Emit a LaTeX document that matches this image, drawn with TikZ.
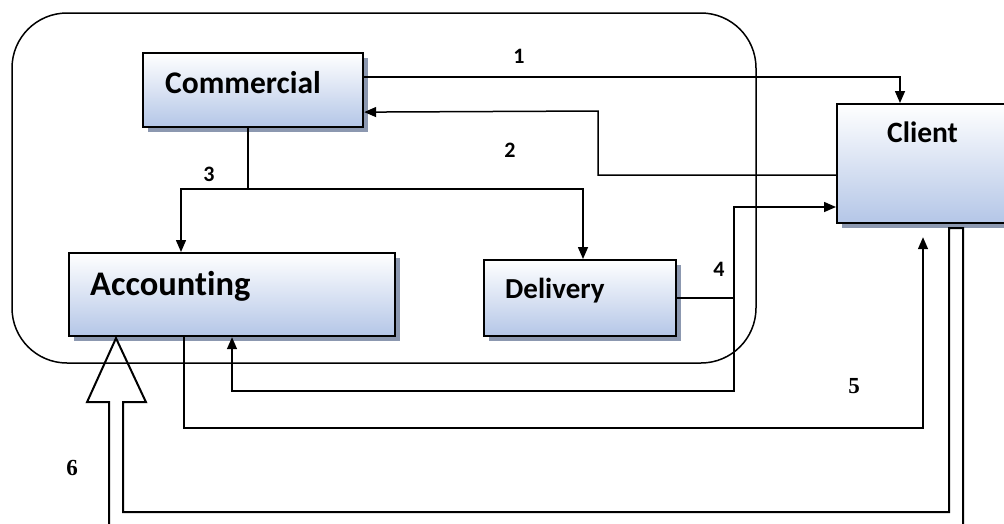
\documentclass[tikz,border=0pt]{standalone}
\usepackage{fontspec}
\setmainfont{Carlito}[Ligatures=NoCommon]
\newfontfamily\serifnum{Liberation Serif}
\usetikzlibrary{arrows.meta,shadows}
\definecolor{boxbot}{RGB}{180,198,231}
\definecolor{shadowc}{RGB}{140,152,176}
\begin{document}
\begin{tikzpicture}[x=1pt,y=-1pt,
 box/.style={draw=black, line width=2.2pt, top color=white, bottom color=boxbot, inner sep=0pt, anchor=north west,
   drop shadow={shadow xshift=5pt, shadow yshift=-5pt, fill=shadowc, opacity=1}},
 lbl/.style={font=\fontsize{#1}{#1}\selectfont\bfseries, inner sep=0pt, anchor=base west},
 num/.style={font=\fontsize{22}{22}\selectfont\bfseries, inner sep=0pt},
 snum/.style={font=\serifnum\fontsize{23}{23}\selectfont\bfseries, inner sep=0pt},
 conn/.style={line width=1.5pt, -{Triangle[length=12pt,width=10pt]}},
 plain/.style={line width=1.5pt},
]
\useasboundingbox (0,0) rectangle (1004,523);
\clip (0,0) rectangle (1004,523);
% organisation frame
\draw[plain, rounded corners=55pt] (12,13) rectangle (756,363);
% boxes
\node[box, minimum width=220pt, minimum height=74pt] (com) at (142,52) {};
\node[box, minimum width=180pt, minimum height=119pt] (cli) at (836,103) {};
\node[box, minimum width=326pt, minimum height=83pt] (acc) at (68,252) {};
\node[box, minimum width=192pt, minimum height=76pt] (del) at (483,259) {};
% box texts
\node[lbl=31.5] (comt) at (165,93) {Commercial};
\node[lbl=34.5] (acct) at (90,295) {Accounting};
\node[lbl=29] (delt) at (505,298) {Delivery};
\node[lbl=29.5] (clit) at (887,142) {Client};
% 1
\draw[conn] ([yshift=13pt]com.east) -| ([xshift=64pt]cli.north west);
% 2
\draw[conn] ([yshift=-72pt]cli.north west) -- ++(-238,0) -- ++(0,-64) -- ([yshift=-22pt]com.east);
% 3
\coordinate (j3) at ([xshift=-5pt,yshift=-61pt]com.south);
\draw[plain] ([xshift=-5pt]com.south) -- (j3);
\draw[conn] (j3) -| ([xshift=113pt]acc.north west);
\draw[conn] (j3) -| ([xshift=100pt]del.north west);
% 4
\coordinate (j4) at ([xshift=57pt]del.east);
\draw[plain] (del.east) -- (j4);
\draw[conn] (j4) |- ([yshift=-104pt]cli.north west);
\draw[conn] (j4) -- ++(0,93) -| ([xshift=164pt]acc.south west);
% 5
\draw[conn, shorten >=13pt] ([xshift=116pt]acc.south west) -- ++(0,91) -| ([xshift=87pt]cli.south west);
% 6 big hollow arrow
\coordinate (tip6) at ([xshift=48pt,yshift=-1pt]acc.south west);
\draw[line width=2pt, line join=miter] (tip6) ++(-7,194) -- ++(0,-130) -- ++(-22,0) -- (tip6)
  -- ++(30,64) -- ++(-23,0) -- ++(0,110) -| ([xshift=113pt,yshift=-4pt]cli.south west) -- ++(14,0) -- ++(0,310);
% numbers
\node[num] (n1) at (519,56) {1};
\node[num] (n2) at (510,150) {2};
\node[num] (n3) at (209,174) {3};
\node[num] (n4) at (719,269) {4};
\node[snum] (n5) at (854,386) {5};
\node[snum] (n6) at (72,468) {6};
\end{tikzpicture}
\end{document}
